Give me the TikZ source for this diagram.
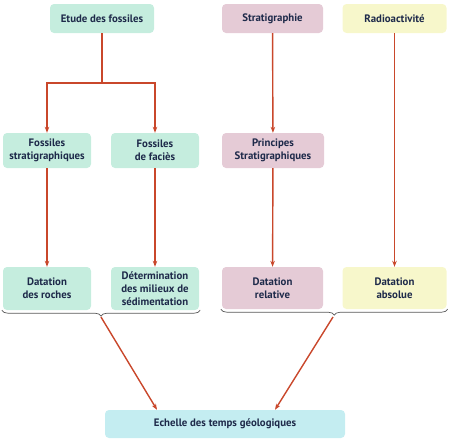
\documentclass[tikz,border=0pt]{standalone}
\usepackage{fontspec}
\setmainfont{PT Sans}
\usetikzlibrary{arrows.meta,positioning,calc,decorations.pathreplacing}
\definecolor{mint}{HTML}{C5EDDE}
\definecolor{rose}{HTML}{E5CBD6}
\definecolor{paleyellow}{HTML}{F7F7CB}
\definecolor{paleblue}{HTML}{C4EDF1}
\definecolor{linkred}{HTML}{C9472B}
\definecolor{navy}{HTML}{1E2A4A}

\begin{document}
\begin{tikzpicture}[
  x=1pt, y=-1pt,
  >={Stealth[length=6pt,width=4.5pt]},
  every node/.style={font=\bfseries\fontsize{10.8}{13}\selectfont, text=navy, align=center},
  box/.style={rounded corners=4pt, inner sep=0pt},
  fosbox/.style={box, fill=mint},
  stratbox/.style={box, fill=rose},
  radiobox/.style={box, fill=paleyellow},
  timebox/.style={box, fill=paleblue},
  link/.style={->, line width=1.4pt, linkred},
  bracket/.style={decorate, decoration={brace, mirror, amplitude=6pt}, line width=0.7pt, black!65},
]
  \useasboundingbox (0,0) rectangle (450,442);

  % Top row
  \node[fosbox, minimum width=104pt, minimum height=29pt] (etude) at (102,18.5) {Etude des fossiles};
  \node[stratbox, minimum width=101pt, minimum height=29pt] (strat) at (272.5,18.5) {Stratigraphie};
  \node[radiobox, minimum width=104pt, minimum height=29pt] (radio) at (394.5,18.5) {Radioactivité};

  % Middle row
  \node[fosbox, minimum width=88pt, minimum height=35pt] (fstrat) at (47,150.5) {Fossiles\\stratigraphiques};
  \node[fosbox, minimum width=88pt, minimum height=35pt] (ffacies) at (155,150.5) {Fossiles\\de faciès};
  \node[stratbox, minimum width=102pt, minimum height=35pt] (princ) at (273,150.5) {Principes\\Stratigraphiques};

  % Bottom row
  \node[fosbox, minimum width=88pt, minimum height=43pt] (droches) at (47,288.5) {Datation\\des roches};
  \node[fosbox, minimum width=88pt, minimum height=43pt] (determ) at (155,288.5) {Détermination\\des milieux de\\sédimentation};
  \node[stratbox, minimum width=101pt, minimum height=42pt] (drel) at (272.5,288) {Datation\\relative};
  \node[radiobox, minimum width=104pt, minimum height=42pt] (dabs) at (394.5,288) {Datation\\absolue};

  \node[timebox, minimum width=240pt, minimum height=28pt] (echelle) at (225,424) {Echelle des temps géologiques};

  % Links
  \coordinate (split) at (102,83);
  \draw[line width=1.4pt, linkred] (etude.south) -- (split);
  \draw[link] (split) -| (fstrat.north);
  \draw[link] (split) -| (ffacies.north);
  \draw[link] (strat) -- (princ);
  \draw[link] (fstrat) -- (droches);
  \draw[link] (ffacies) -- (determ);
  \draw[link] (princ) -- (drel);
  \draw[link] (radio) -- (dabs);

  % Braces
  \draw[bracket] ([xshift=-1pt]droches.south west) -- ([xshift=1pt]determ.south east);
  \draw[bracket] ([xshift=-1pt]drel.south west) -- ([xshift=1pt]dabs.south east);
  \coordinate (ltip) at (101,317);
  \coordinate (rtip) at (333,317);
  \draw[link] (ltip) -- ([xshift=-68pt]echelle.north);
  \draw[link] (rtip) -- ([xshift=50pt]echelle.north);
\end{tikzpicture}
\end{document}
